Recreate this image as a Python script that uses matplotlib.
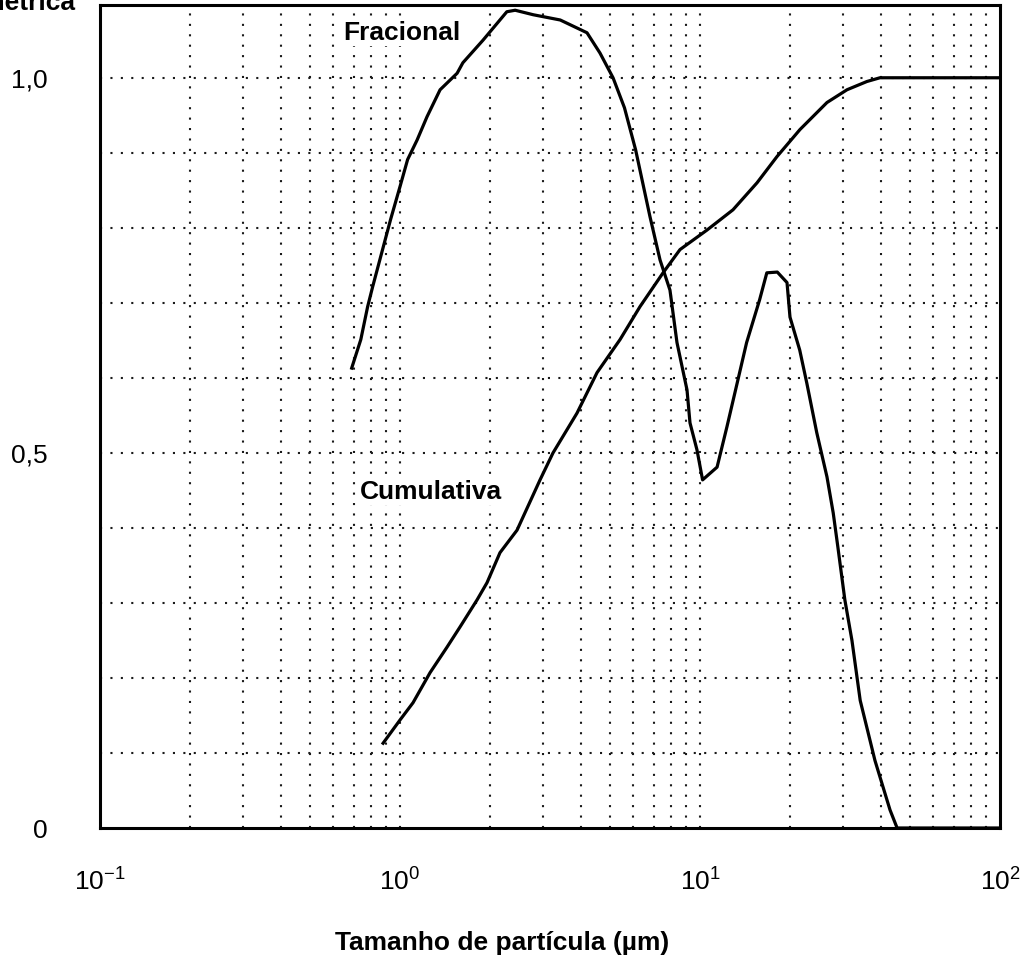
import matplotlib
matplotlib.use("Agg")
import matplotlib.pyplot as plt
from matplotlib.ticker import FixedLocator, NullFormatter

plt.rcParams['font.family'] = ['Liberation Sans', 'DejaVu Sans']

# curva fracional (tamanho em um, valor)
frac_x = [0.69, 0.74, 0.78, 0.81, 0.88, 0.93, 1.0, 1.06, 1.14, 1.23, 1.36, 1.55,
          1.62, 1.89, 2.27, 2.42, 2.78, 3.42, 4.2, 4.64, 5.13, 5.6, 6.1, 6.81,
          7.36, 7.94, 8.38, 9.05, 9.26, 9.77, 10.2, 11.4, 12.3, 13.3, 14.3, 15.8,
          16.7, 18.1, 19.5, 19.95, 21.5, 22.7, 24.5, 26.5, 27.8, 28.8, 30.4, 32.1,
          34.2, 38.3, 43.0, 45.4, 100]
frac_y = [0.613, 0.651, 0.695, 0.721, 0.775, 0.811, 0.855, 0.891, 0.917, 0.948, 0.984, 1.006,
          1.02, 1.05, 1.088, 1.09, 1.084, 1.077, 1.06, 1.033, 1.0, 0.96, 0.904, 0.815,
          0.757, 0.717, 0.647, 0.584, 0.54, 0.504, 0.464, 0.481, 0.535, 0.593, 0.647, 0.704,
          0.74, 0.741, 0.727, 0.681, 0.637, 0.593, 0.527, 0.468, 0.42, 0.375, 0.304, 0.25,
          0.17, 0.09, 0.024, 0.0, 0.0]

# curva cumulativa
cum_x = [0.878, 1.0, 1.105, 1.259, 1.434, 1.585, 1.806, 1.95, 2.154, 2.455, 2.929, 3.236,
         3.89, 4.537, 5.412, 6.31, 7.53, 8.577, 10.55, 12.88, 15.49, 18.06, 21.54, 26.5,
         30.9, 36.0, 39.8, 100]
cum_y = [0.113, 0.144, 0.167, 0.207, 0.241, 0.268, 0.304, 0.327, 0.367, 0.397, 0.464, 0.5,
         0.553, 0.607, 0.651, 0.695, 0.74, 0.771, 0.797, 0.824, 0.86, 0.895, 0.931, 0.967,
         0.984, 0.995, 1.0, 1.0]

y_ticks = [0, 0.5, 1.0]
y_ticklabels = ['0', '0,5', '1,0']
x_ticks = [0.1, 1, 10, 100]
x_ticklabels = ['$\\mathregular{10^{-1}}$', '$\\mathregular{10^{0}}$',
                '$\\mathregular{10^{1}}$', '$\\mathregular{10^{2}}$']

fig = plt.figure(figsize=(10.25, 9.59), dpi=100)
ax = fig.add_axes([0.0976, 0.1366, 0.878, 0.8582])

ax.set_xscale('log')
ax.set_xlim(0.1, 100)
ax.set_ylim(0, 1.097)

# grade pontilhada
for xv in [m * 10.0 ** e for e in (-1, 0, 1) for m in range(1, 10)][1:]:
    ax.axvline(xv, color='#1a1a1a', lw=1.5, ls=(0, (1, 4)), zorder=1)
for yv in [0.1 * i for i in range(1, 11)]:
    ax.axhline(yv, color='#1a1a1a', lw=1.5, ls=(0, (1, 4)), zorder=1)

ax.plot(frac_x, frac_y, color='black', lw=2.3, zorder=3)
ax.plot(cum_x, cum_y, color='black', lw=2.3, zorder=3)

ax.text(0.646, 1.06, 'Fracional', fontsize=19, fontweight='bold', va='center', ha='left',
        bbox=dict(facecolor='white', edgecolor='none', pad=0.5), zorder=4)
ax.text(0.736, 0.448, 'Cumulativa', fontsize=19, fontweight='bold', va='center', ha='left',
        bbox=dict(facecolor='white', edgecolor='none', pad=0.5), zorder=4)

ax.xaxis.set_major_locator(FixedLocator(x_ticks))
ax.set_xticklabels(x_ticklabels)
ax.xaxis.set_minor_formatter(NullFormatter())
ax.set_yticks(y_ticks)
ax.set_yticklabels(y_ticklabels)
ax.tick_params(axis='both', which='both', length=0, labelsize=19)
ax.tick_params(axis='x', pad=29)
ax.tick_params(axis='y', pad=38)

for s in ax.spines.values():
    s.set_linewidth(2.2)

ax.set_xlabel('Tamanho de partícula (µm)', fontsize=19, fontweight='bold', labelpad=24)
ax.xaxis.set_label_coords(0.447, -0.125)
fig.text(75 / 1025, 0.997, 'Distribuição volumétrica', fontsize=19, fontweight='bold',
         ha='right', va='center')

fig.savefig('out.png', dpi=100)
